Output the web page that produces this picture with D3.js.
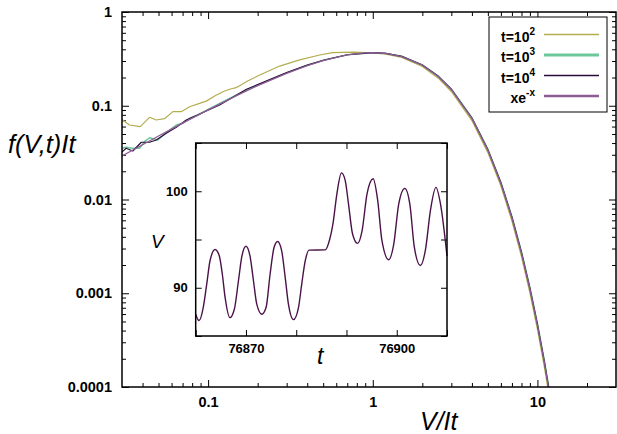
<!DOCTYPE html>
<html>
<head>
<meta charset="utf-8">
<script src="https://cdn.jsdelivr.net/npm/d3@7"></script>
<style>
  body { margin: 0; background: #fff; }
  text { font-family: "Liberation Sans", Arial, sans-serif; }
  .tick text { font-weight: bold; fill: #000; }
  .tick line { stroke: #000; stroke-width: 1; }
</style>
</head>
<body>
<div id="chart"></div>
<script>
// ---- data ----
var yTickValues = [1e-4, 1e-3, 1e-2, 1e-1, 1];
var yTickLabels = ["0.0001", "0.001", "0.01", "0.1", "1"];
var xTickValues = [0.1, 1, 10];
var xTickLabels = ["0.1", "1", "10"];

var seriesNames = ["t=10", "t=10", "t=10", "xe"];
var seriesSups = ["2", "3", "4", "-x"];
var seriesColors = ["#b3ad4e", "#6cc79a", "#2a0b38", "#8e5c94"];
var seriesWidths = [1.2, 1.5, 1.2, 1.3];
var legendWidths = [1.3, 3, 1.3, 2.6];

// t = 10^2
var t2Data = [
  [0.0297, 0.0722], [0.0333, 0.0623], [0.0387, 0.0598], [0.0441, 0.0753],
  [0.0484, 0.0705], [0.0544, 0.0728], [0.0611, 0.0865], [0.0687, 0.0865],
  [0.0772, 0.0977], [0.0888, 0.106], [0.0975, 0.112], [0.1096, 0.127],
  [0.123, 0.141], [0.135, 0.150], [0.148, 0.156], [0.175, 0.185],
  [0.206, 0.213], [0.272, 0.265], [0.36, 0.308], [0.476, 0.348],
  [0.571, 0.368], [0.76, 0.374], [1, 0.366], [1.2, 0.356], [1.5, 0.328],
  [2, 0.262], [2.5, 0.197], [3, 0.142], [4, 0.0695], [5, 0.0316],
  [6, 0.0139], [7, 0.00590], [8, 0.00246], [9, 0.00101], [10, 0.000412],
  [11, 0.000166], [12, 0.0000660], [13, 0.0000262]
];
// t = 10^3
var t3Data = [
  [0.0297, 0.0352], [0.0318, 0.0360], [0.0349, 0.0352], [0.0383, 0.0352],
  [0.0411, 0.0414], [0.0441, 0.0456], [0.0495, 0.0431], [0.0557, 0.0516],
  [0.0641, 0.0623], [0.0703, 0.0650], [0.0772, 0.0735], [0.0867, 0.0797],
  [0.1, 0.0915], [0.12, 0.108], [0.15, 0.131], [0.2, 0.166], [0.3, 0.224],
  [0.4, 0.270], [0.5, 0.305], [0.7, 0.349], [1, 0.368], [1.2, 0.362],
  [1.5, 0.337], [2, 0.273], [2.5, 0.207], [3, 0.151], [4, 0.0745],
  [5, 0.0344], [6, 0.0153], [7, 0.00658], [8, 0.00278], [9, 0.00116],
  [10, 0.000478], [11, 0.000195], [12, 0.0000785], [13, 0.0000315]
];
// t = 10^4
var t4Data = [
  [0.0297, 0.0316], [0.0318, 0.0352], [0.0349, 0.0329], [0.0393, 0.0408],
  [0.0441, 0.0408], [0.0484, 0.0431], [0.0557, 0.0508], [0.0641, 0.0589],
  [0.0737, 0.0705], [0.0888, 0.0817], [0.1175, 0.102], [0.171, 0.150],
  [0.2, 0.168], [0.3, 0.226], [0.4, 0.271], [0.5, 0.306], [0.7, 0.350],
  [1, 0.368], [1.2, 0.362], [1.5, 0.336], [2, 0.272], [2.5, 0.206],
  [3, 0.150], [4, 0.0740], [5, 0.0340], [6, 0.0151], [7, 0.00648],
  [8, 0.00273], [9, 0.00113], [10, 0.000465], [11, 0.000189],
  [12, 0.0000760], [13, 0.0000305]
];
// xe^-x
var expData = [
  [0.03, 0.0291], [0.04, 0.0384], [0.05, 0.0476], [0.07, 0.0653],
  [0.1, 0.0905], [0.15, 0.129], [0.2, 0.164], [0.3, 0.222], [0.4, 0.268],
  [0.5, 0.303], [0.6, 0.329], [0.7, 0.348], [0.8, 0.359], [0.9, 0.366],
  [1, 0.368], [1.2, 0.361], [1.5, 0.335], [2, 0.271], [2.5, 0.205],
  [3, 0.149], [4, 0.0733], [5, 0.0337], [6, 0.0149], [7, 0.00638],
  [8, 0.00268], [9, 0.00111], [10, 0.000454], [11, 0.000184],
  [12, 0.0000737], [13, 0.0000294]
];

// inset: V against t
var insetXTicks = [76860, 76870, 76880, 76890, 76900, 76910];
var insetXLabels = ["", "76870", "", "", "76900", ""];
var insetYTicks = [85, 90, 95, 100, 105];
var insetYLabels = ["", "90", "", "100", ""];
var insetData = [
  [76860, 87.26], [76860.66, 86.6], [76861.5, 87.95], [76862.2, 90.4],
  [76862.85, 92.8], [76863.85, 93.96], [76864.7, 93.3], [76865.3, 91.4],
  [76865.85, 89.0], [76866.8, 86.9], [76867.7, 87.8], [76868.5, 90.7],
  [76869.2, 93.3], [76870, 94.3], [76870.8, 93.3], [76871.5, 90.7],
  [76872.15, 88.3], [76873.15, 87.26], [76874, 87.95], [76874.8, 91.4],
  [76875.6, 94.2], [76876.3, 94.8], [76877.1, 93.85], [76877.8, 91.1],
  [76878.45, 88.3], [76879.45, 86.7], [76880.45, 87.95], [76881.1, 90.4],
  [76881.8, 92.8], [76882.55, 93.9], [76885.76, 93.92], [76886.6, 94.9],
  [76887.3, 96.6], [76888.1, 99.76], [76889.0, 101.9], [76889.75, 101.1],
  [76890.4, 98.7], [76891.2, 95.6], [76892.2, 94.6], [76893.1, 95.9],
  [76894.1, 99.76], [76895.3, 101.3], [76896.2, 99.1], [76897.05, 94.9],
  [76898.4, 92.9], [76899.4, 94.5], [76900.4, 98.7], [76901.6, 100.3],
  [76902.6, 98.7], [76903.5, 94.2], [76904.7, 92.3], [76905.7, 93.9],
  [76906.7, 98.0], [76907.8, 100.4], [76908.7, 98.7], [76910, 93.3]
];

// ---- layout ----
var svgWidth = 617;
var svgHeight = 434;
var margin = { top: 12, right: 1, bottom: 47, left: 122 };
var width = svgWidth - margin.left - margin.right;
var height = svgHeight - margin.top - margin.bottom;

var svg = d3.select("#chart")
  .append("svg")
  .attr("width", svgWidth)
  .attr("height", svgHeight);

var chartGroup = svg.append("g")
  .attr("transform", `translate(${margin.left}, ${margin.top})`);

var xScale = d3.scaleLog().domain([0.03, 30]).range([0, width]);
var yScale = d3.scaleLog().domain([1e-4, 1]).range([height, 0]);

function minorTicks(lo, hi) {
  var out = [];
  for (var e = lo; e <= hi; e++) {
    for (var m = 2; m <= 9; m++) out.push(m * Math.pow(10, e));
  }
  return out;
}
var xMinor = minorTicks(-2, 1).filter(v => v > 0.03 && v < 30);
var yMinor = minorTicks(-4, -1);

chartGroup.append("clipPath").attr("id", "clipMain")
  .append("rect").attr("width", width).attr("height", height);

// major + minor ticks on all four sides, pointing inward
function addAxis(axisFn, scale, values, size, labels, transform) {
  var ax = axisFn(scale).tickValues(values).tickSize(-size).tickPadding(10)
    .tickFormat((d, i) => labels ? labels[i] : "");
  var g = chartGroup.append("g").attr("transform", transform || null).call(ax);
  g.select(".domain").remove();
  g.selectAll("text").attr("font-size", "14.5px");
  return g;
}
addAxis(d3.axisLeft, yScale, yTickValues, 7, yTickLabels);
addAxis(d3.axisLeft, yScale, yMinor, 4, null);
addAxis(d3.axisRight, yScale, yTickValues, 7, null, `translate(${width},0)`);
addAxis(d3.axisRight, yScale, yMinor, 4, null, `translate(${width},0)`);
addAxis(d3.axisBottom, xScale, xTickValues, 7, xTickLabels, `translate(0,${height})`);
addAxis(d3.axisBottom, xScale, xMinor, 4, null, `translate(0,${height})`);
addAxis(d3.axisTop, xScale, xTickValues, 7, null);
addAxis(d3.axisTop, xScale, xMinor, 4, null);

var line = d3.line()
  .x(d => xScale(d[0]))
  .y(d => yScale(d[1]));

var allSeries = [t2Data, t3Data, t4Data, expData];
chartGroup.append("g")
  .attr("clip-path", "url(#clipMain)")
  .selectAll("path")
  .data(allSeries)
  .enter()
  .append("path")
  .attr("d", line)
  .attr("fill", "none")
  .attr("stroke", (d, i) => seriesColors[i])
  .attr("stroke-width", (d, i) => seriesWidths[i])
  .attr("stroke-linejoin", "round");

chartGroup.append("rect")
  .attr("width", width).attr("height", height)
  .attr("fill", "none").attr("stroke", "#000").attr("stroke-width", 1.5);

// legend
var legend = chartGroup.append("g").attr("transform", "translate(367,5)");
legend.append("rect")
  .attr("width", 118).attr("height", 95)
  .attr("fill", "#fff").attr("stroke", "#000").attr("stroke-width", 1);
seriesNames.forEach(function(name, i) {
  var yy = 17.5 + i * 20.5;
  var txt = legend.append("text")
    .attr("x", 46).attr("y", yy + 7)
    .attr("text-anchor", "end")
    .attr("font-size", "14px").attr("font-weight", "bold");
  txt.append("tspan").text(name);
  txt.append("tspan").attr("dy", -7).attr("font-size", "10px").text(seriesSups[i]);
  legend.append("line")
    .attr("x1", 55).attr("x2", 110).attr("y1", yy).attr("y2", yy)
    .attr("stroke", seriesColors[i]).attr("stroke-width", legendWidths[i]);
});

// axis titles
svg.append("text")
  .attr("x", 8).attr("y", 153)
  .attr("font-size", "25.5px").attr("font-style", "italic")
  .text("f(V,t)It");
svg.append("text")
  .attr("x", 420).attr("y", 430)
  .attr("font-size", "25px").attr("font-style", "italic")
  .text("V/It");

// ---- inset ----
var inset = { left: 195.7, top: 143, width: 251.3, height: 193 };
var insetGroup = svg.append("g")
  .attr("transform", `translate(${inset.left}, ${inset.top})`);
insetGroup.append("rect")
  .attr("width", inset.width).attr("height", inset.height).attr("fill", "#fff");

var ixScale = d3.scaleLinear().domain([76860, 76910]).range([0, inset.width]);
var iyScale = d3.scaleLinear().domain([85, 105]).range([inset.height, 0]);

function addInsetAxis(axisFn, scale, values, labels, transform) {
  var g = insetGroup.append("g").attr("transform", transform || null)
    .call(axisFn(scale).tickValues(values).tickSize(-6).tickPadding(8)
      .tickFormat((d, i) => labels ? labels[i] : ""));
  g.select(".domain").remove();
  g.selectAll("text").attr("font-size", "13px");
}
addInsetAxis(d3.axisLeft, iyScale, insetYTicks, insetYLabels);
addInsetAxis(d3.axisRight, iyScale, insetYTicks, null, `translate(${inset.width},0)`);
addInsetAxis(d3.axisBottom, ixScale, insetXTicks, insetXLabels, `translate(0,${inset.height})`);
addInsetAxis(d3.axisTop, ixScale, insetXTicks, null);

insetGroup.append("path")
  .datum(insetData)
  .attr("d", d3.line().x(d => ixScale(d[0])).y(d => iyScale(d[1])).curve(d3.curveMonotoneX))
  .attr("fill", "none")
  .attr("stroke", "#4a1248")
  .attr("stroke-width", 1.4);

insetGroup.append("rect")
  .attr("width", inset.width).attr("height", inset.height)
  .attr("fill", "none").attr("stroke", "#000").attr("stroke-width", 1.5);

svg.append("text")
  .attr("x", 151).attr("y", 248)
  .attr("font-size", "19px").attr("font-style", "italic")
  .text("V");
svg.append("text")
  .attr("x", 317).attr("y", 364)
  .attr("font-size", "23px").attr("font-style", "italic")
  .text("t");
</script>
</body>
</html>
